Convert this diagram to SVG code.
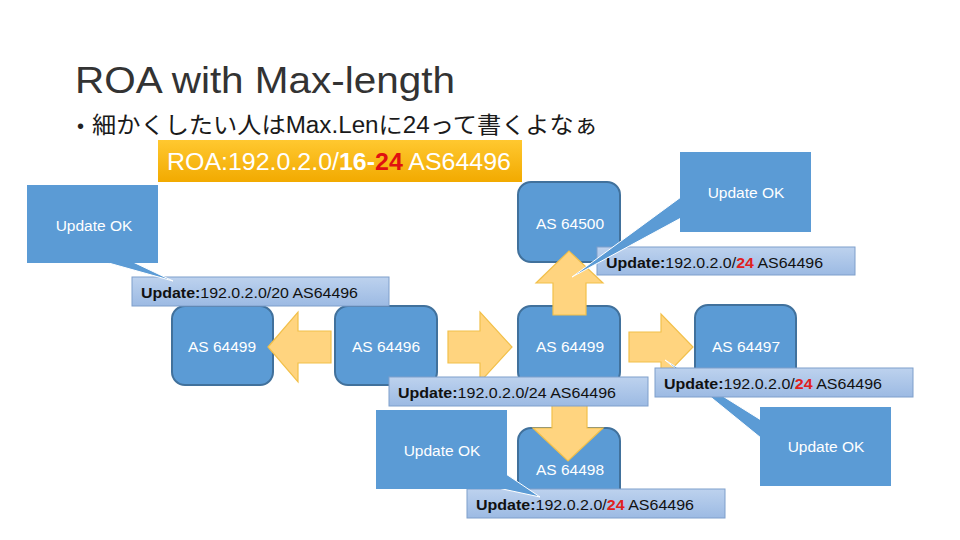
<svg xmlns="http://www.w3.org/2000/svg" width="960" height="540" viewBox="0 0 960 540">
  <defs>
    <linearGradient id="gOrange" x1="0" y1="0" x2="0" y2="1">
      <stop offset="0" stop-color="#FFC830"/>
      <stop offset="1" stop-color="#F2AA00"/>
    </linearGradient>
    <linearGradient id="gLabel" x1="0" y1="0" x2="0" y2="1">
      <stop offset="0" stop-color="#BDD2EE"/>
      <stop offset="1" stop-color="#9CBAE3"/>
    </linearGradient>
    <style>
      .node rect { fill: #5B9BD5; stroke: #41719C; stroke-width: 2; }
      .node text, .callout text { fill: #FFFFFF; font-family: "Liberation Sans", "Noto Sans", sans-serif; font-size: 15.5px; text-anchor: middle; }
      .arrow { fill: #FFD47F; stroke: #F2C04A; stroke-width: 1.2; }
      .label rect { fill: url(#gLabel); stroke: #7F9FCB; stroke-width: 1; }
      .label text { fill: #111111; font-family: "Liberation Sans", "Noto Sans", sans-serif; font-size: 15.5px; }
      .b { font-weight: bold; }
      .red { fill: #E02020; font-weight: bold; }
      .callout .shape { fill: #5B9BD5; }
      .callout .tail { fill: #5B9BD5; stroke: #FFFFFF; stroke-width: 1; }
    </style>
  </defs>
  <rect width="960" height="540" fill="#FFFFFF"/>

  <!-- Title and bullet -->
  <text x="75" y="93" font-family="'Liberation Sans', 'Noto Sans', sans-serif" font-size="37" fill="#333333" textLength="380" lengthAdjust="spacingAndGlyphs">ROA with Max-length</text>
  <text x="77" y="133" font-family="'Liberation Sans', 'Noto Sans CJK JP', sans-serif" font-size="20" fill="#222222">•</text>
  <text x="92" y="133" font-family="'Liberation Sans', 'Noto Sans CJK JP', sans-serif" font-size="23" fill="#1A1A1A" textLength="506" lengthAdjust="spacingAndGlyphs">細かくしたい人はMax.Lenに24って書くよなぁ</text>

  <!-- ROA box -->
  <g id="roa">
    <rect x="158" y="140" width="364" height="42" fill="url(#gOrange)"/>
    <text x="167" y="170" font-family="'Liberation Sans', sans-serif" font-size="23" fill="#FFFFFF" textLength="344" lengthAdjust="spacingAndGlyphs">ROA:192.0.2.0/<tspan font-weight="bold">16-</tspan><tspan font-weight="bold" fill="#E01010">24</tspan> AS64496</text>
  </g>

  <!-- Nodes -->
  <g id="as64500" class="node">
    <rect x="518" y="182" width="102" height="80" rx="13"/>
    <text x="570" y="229">AS 64500</text>
  </g>
  <g id="as64499-left" class="node">
    <rect x="172" y="306" width="101" height="79" rx="13"/>
    <text x="222" y="352">AS 64499</text>
  </g>
  <g id="as64496" class="node">
    <rect x="335" y="306" width="102" height="79" rx="13"/>
    <text x="386" y="352">AS 64496</text>
  </g>
  <g id="as64499-mid" class="node">
    <rect x="518" y="306" width="102" height="79" rx="13"/>
    <text x="570" y="352">AS 64499</text>
  </g>
  <g id="as64497" class="node">
    <rect x="695" y="305" width="101" height="80" rx="13"/>
    <text x="746" y="352">AS 64497</text>
  </g>
  <g id="as64498" class="node">
    <rect x="518" y="428" width="102" height="80" rx="13"/>
    <text x="570" y="475">AS 64498</text>
  </g>

  <!-- Connectors (block arrows) -->
  <g id="connectors">
    <path class="arrow" d="M268,347 L298,312 L298,331 L331,331 L331,363 L298,363 L298,382 Z"/>
    <path class="arrow" d="M448,331 L480,331 L480,312 L512,347 L480,382 L480,363 L448,363 Z"/>
    <path class="arrow" d="M629,332 L661,332 L661,314 L693,347 L661,380 L661,362 L629,362 Z"/>
    <path class="arrow" d="M553,315 L553,283 L536,283 L569,251 L603,283 L586,283 L586,315 Z"/>
    <path class="arrow" d="M552,380 L552,428 L533,428 L568,461 L603,428 L587,428 L587,380 Z"/>
  </g>

  <!-- Callout under label (bottom right) -->
  <g id="callout-br" class="callout">
    <polygon class="tail" points="665,360 761,420 761,438"/>
    <rect class="shape" x="760" y="407" width="131" height="79"/>
    <text x="826" y="452">Update OK</text>
  </g>

  <!-- Update labels -->
  <g id="label-20" class="label">
    <rect x="132" y="277" width="257" height="29"/>
    <text x="141" y="298" textLength="217" lengthAdjust="spacingAndGlyphs"><tspan class="b">Update:</tspan>192.0.2.0/20 AS64496</text>
  </g>
  <g id="label-top" class="label">
    <rect x="597" y="247" width="258" height="28"/>
    <text x="606" y="268" textLength="217" lengthAdjust="spacingAndGlyphs"><tspan class="b">Update:</tspan>192.0.2.0/<tspan class="red">24</tspan> AS64496</text>
  </g>
  <g id="label-mid" class="label">
    <rect x="389" y="377" width="259" height="29"/>
    <text x="398" y="398" textLength="218" lengthAdjust="spacingAndGlyphs"><tspan class="b">Update:</tspan>192.0.2.0/24 AS64496</text>
  </g>
  <g id="label-right" class="label">
    <rect x="655" y="368" width="258" height="29"/>
    <text x="664" y="389" textLength="218" lengthAdjust="spacingAndGlyphs"><tspan class="b">Update:</tspan>192.0.2.0/<tspan class="red">24</tspan> AS64496</text>
  </g>
  <g id="label-bottom" class="label">
    <rect x="467" y="489" width="258" height="29"/>
    <text x="476" y="510" textLength="218" lengthAdjust="spacingAndGlyphs"><tspan class="b">Update:</tspan>192.0.2.0/<tspan class="red">24</tspan> AS64496</text>
  </g>

  <!-- Callouts -->
  <g id="callout-left" class="callout">
    <polygon class="tail" points="105,262 133,262 173,281"/>
    <rect class="shape" x="27" y="185" width="131" height="78"/>
    <text x="94" y="231">Update OK</text>
  </g>
  <g id="callout-tr" class="callout">
    <polygon class="tail" points="681,197 681,218 572,277"/>
    <rect class="shape" x="680" y="152" width="131" height="80"/>
    <text x="746" y="198">Update OK</text>
  </g>
  <g id="callout-bm" class="callout">
    <polygon class="tail" points="506,474 498,488 540,497"/>
    <rect class="shape" x="376" y="410" width="131" height="79"/>
    <text x="442" y="456">Update OK</text>
  </g>
</svg>
